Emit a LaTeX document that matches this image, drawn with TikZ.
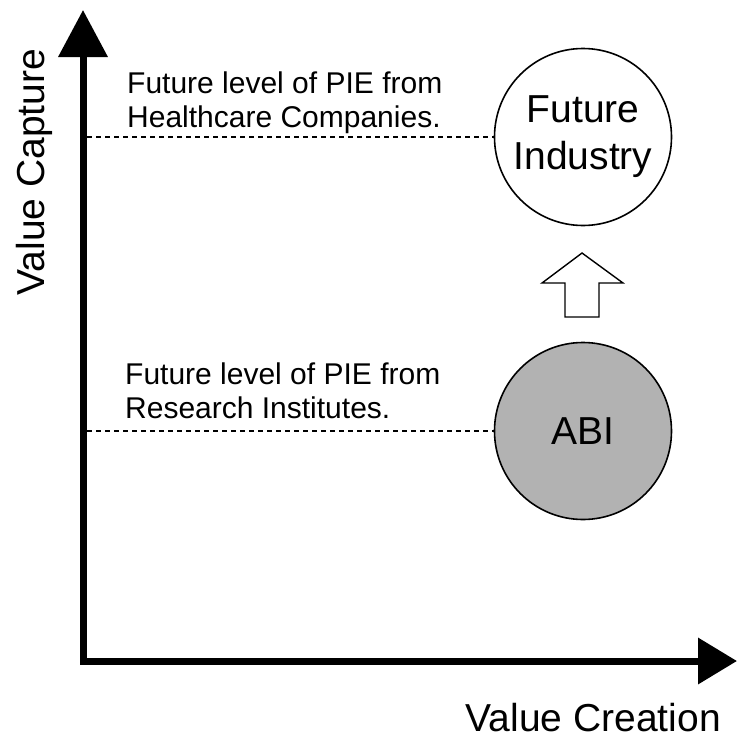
\documentclass[tikz,border=0pt]{standalone}
\usepackage{fontspec}
\setmainfont{Liberation Sans}
\usetikzlibrary{arrows.meta}
\begin{document}
\begin{tikzpicture}[x=1pt,y=-1pt,
  lbl/.style={anchor=base west, inner sep=0pt, font=\fontsize{30}{34}\selectfont},
  axlbl/.style={inner sep=0pt, font=\fontsize{39}{44}\selectfont},
  bubble/.style={circle, draw, line width=1.6pt, minimum size=177pt, inner sep=0pt, align=center, font=\fontsize{39}{47}\selectfont},
  level/.style={dashed, dash pattern=on 5pt off 4pt, line width=1.3pt},
  axis/.style={line width=7pt, {Triangle[width=48pt,length=47pt]}-{Triangle[width=45pt,length=39pt]}}]
\useasboundingbox (0,0) rectangle (737,742);
% axes
\coordinate (ytip) at (83,10);
\coordinate (O) at (83,661);
\coordinate (xtip) at (737,661);
\draw[axis] (ytip) -- (O) -- (xtip);
\node[axlbl, rotate=90, anchor=base] (ylab) at (44,172) {Value Capture};
\node[axlbl, anchor=base east] (xlab) at (721,731) {Value Creation};
% bubbles
\node[bubble, fill=white] (FI) at (583,137) {Future\\Industry};
\node[bubble, fill=black!30] (ABI) at (583,431) {ABI};
% dashed levels
\coordinate (h1) at (87,137);
\coordinate (h2) at (87,431);
\draw[level] (h1) -- (FI.west);
\draw[level] (h2) -- (ABI.west);
% labels
\node[lbl] (t1) at (127,93) {Future level of PIE from};
\node[lbl] (t2) at (127,127) {Healthcare Companies.};
\node[lbl] (t3) at (125,384) {Future level of PIE from};
\node[lbl] (t4) at (125,418) {Research Institutes.};
% block arrow
\draw[line width=1.4pt, fill=white, line join=miter]
  (565,317) -- (565,283) -- (542,283) -- (582,253) -- (623,283) -- (599,283) -- (599,317) -- cycle;
\end{tikzpicture}
\end{document}
